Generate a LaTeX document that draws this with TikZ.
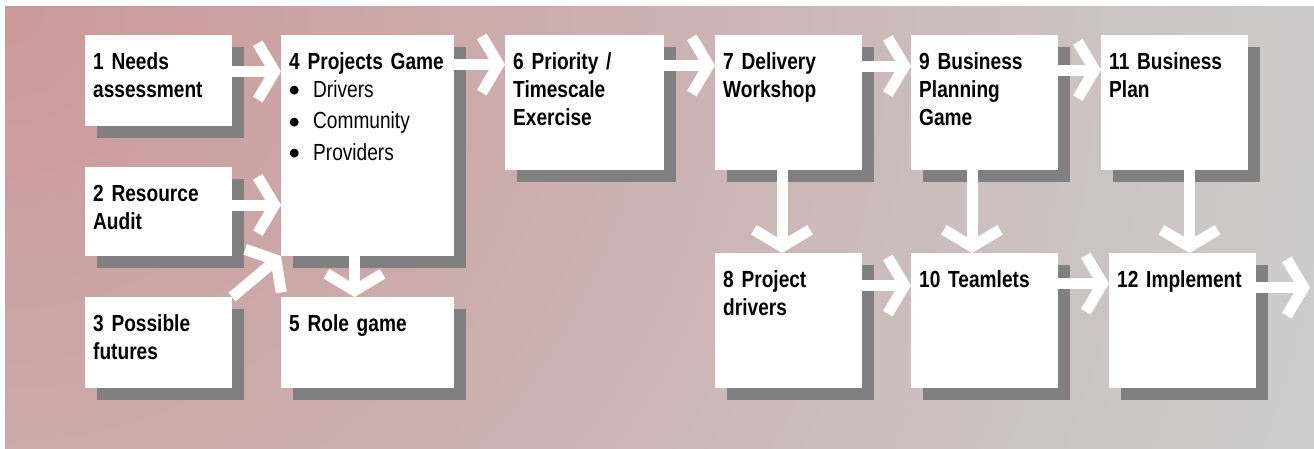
\documentclass[tikz,border=0pt]{standalone}
\usepackage{fontspec}
\setmainfont{Liberation Sans}[FakeStretch=0.82]
\newfontfamily\dotfont{Liberation Sans}
\usetikzlibrary{shadows}

\definecolor{bgpink}{HTML}{CC9999}
\definecolor{bggrey}{HTML}{CCCCCC}
\definecolor{shadowgrey}{HTML}{808080}

% glow centred on the origin, pink in the middle, grey from 1340bp outwards
\pgfdeclareradialshading{bgglow}{\pgfpointorigin}{%
  color(0bp)=(bgpink); color(1340bp)=(bggrey); color(1500bp)=(bggrey)}

% open chevron head with a mitred point, drawn with the line's own width
\pgfdeclarearrow{
  name = Chevron,
  setup code = {
    \pgfarrowssettipend{6.4pt}
    \pgfarrowssetlineend{0pt}
    \pgfarrowssetbackend{-23pt}
    \pgfarrowssetvisualbackend{-23pt}
    \pgfarrowshullpoint{6.4pt}{0pt}
    \pgfarrowsupperhullpoint{-23pt}{31pt}
  },
  drawing code = {
    \pgfsetmiterjoin
    \pgfsetbuttcap
    \pgfpathmoveto{\pgfqpoint{-16.8pt}{28.1pt}}
    \pgfpathlineto{\pgfpointorigin}
    \pgfpathlineto{\pgfqpoint{-16.8pt}{-28.1pt}}
    \pgfusepathqstroke
  }
}

\newcommand\itembul[1]{\makebox[24pt][l]{\smash{\dotfont\bfseries\fontsize{30}{28}\selectfont\raisebox{-3.5pt}{\symbol{"2022}}}}{\mdseries #1}}

\begin{document}
\begin{tikzpicture}[x=1pt,y=-1pt,
  box/.style 2 args={fill=white, inner sep=0pt, outer sep=0pt, anchor=north west,
    minimum width=#1pt, minimum height=#2pt,
    general shadow={fill=shadowgrey, shadow xshift=12pt, shadow yshift=-12pt}},
  lbl/.style={anchor=base west, inner sep=0pt, text width=170pt, align=left,
    font=\fontsize{23.3}{28}\selectfont\bfseries},
  flow/.style={draw=white, line width=11pt, -Chevron},
]
\useasboundingbox (0,0) rectangle (1314,448);

% background: glow spreading from the top left corner
\begin{scope}
  \clip (5,6) rectangle (1314,448);
  \node[inner sep=0pt, outer sep=0pt] at (5,6) {\pgfuseshading{bgglow}};
\end{scope}

% boxes
\node[box={147}{91}]  (b1)  at (85,35)   {};
\node[box={147}{89}]  (b2)  at (85,167)  {};
\node[box={147}{91}]  (b3)  at (85,297)  {};
\node[box={173}{221}] (b4)  at (281,35)  {};
\node[box={173}{91}]  (b5)  at (281,297) {};
\node[box={159}{135}] (b6)  at (505,35)  {};
\node[box={147}{135}] (b7)  at (715,35)  {};
\node[box={147}{135}] (b8)  at (715,253) {};
\node[box={147}{135}] (b9)  at (911,35)  {};
\node[box={147}{135}] (b10) at (911,253) {};
\node[box={147}{135}] (b11) at (1101,35) {};
\node[box={147}{135}] (b12) at (1109,253) {};

% labels
\node[lbl] at ([shift={(8,34)}]b1.north west) {1 Needs\\assessment};
\node[lbl] at ([shift={(8,34)}]b2.north west) {2 Resource\\Audit};
\node[lbl] at ([shift={(8,34)}]b3.north west) {3 Possible\\futures};
\node[lbl] at ([shift={(8,34)}]b4.north west)
  {4 Projects Game\\\itembul{Drivers}\\[3.5pt]\itembul{Community}\\[3.5pt]\itembul{Providers}};
\node[lbl] at ([shift={(8,34)}]b5.north west) {5 Role game};
\node[lbl] at ([shift={(8,34)}]b6.north west) {6 Priority /\\Timescale\\Exercise};
\node[lbl] at ([shift={(8,34)}]b7.north west) {7 Delivery\\Workshop};
\node[lbl] at ([shift={(8,34)}]b8.north west) {8 Project\\drivers};
\node[lbl] at ([shift={(8,34)}]b9.north west) {9 Business\\Planning\\Game};
\node[lbl] at ([shift={(8,34)}]b10.north west) {10 Teamlets};
\node[lbl] at ([shift={(8,34)}]b11.north west) {11 Business\\Plan};
\node[lbl] at ([shift={(8,34)}]b12.north west) {12 Implement};

% connectors
\draw[flow] ([shift={(0,36.5)}]b1.north east) coordinate (s1) -- (s1 -| b4.west);
\draw[flow] ([shift={(0,38)}]b2.north east) coordinate (s2) -- (s2 -| b4.west);
\draw[flow] (b3.north east) -- (b4.south west);
\draw[flow] ([shift={(73.5,0)}]b4.south west) coordinate (s4) -- (s4 |- b5.north);
\draw[flow] ([shift={(0,29.5)}]b4.north east) coordinate (s5) -- (s5 -| b6.west);
\draw[flow] ([shift={(0,30.5)}]b6.north east) coordinate (s6) -- (s6 -| b7.west);
\draw[flow] ([shift={(0,31)}]b7.north east) coordinate (s7) -- (s7 -| b9.west);
\draw[flow] ([shift={(0,35)}]b9.north east) coordinate (s8) -- (s8 -| b11.west);
\draw[flow] ([shift={(67,0)}]b7.south west) coordinate (s9) -- (s9 |- b8.north);
\draw[flow] ([shift={(0,32.5)}]b8.north east) coordinate (s10) -- (s10 -| b10.west);
\draw[flow] ([shift={(61,0)}]b9.south west) coordinate (s11) -- (s11 |- b10.north);
\draw[flow] ([shift={(0,30.5)}]b10.north east) coordinate (s12) -- (s12 -| b12.west);
\draw[flow] ([shift={(88.5,0)}]b11.south west) coordinate (s13) -- (s13 |- b12.north);
\coordinate (out) at (1310,287.5);
\draw[flow] (b12.east |- out) -- (out);
\end{tikzpicture}
\end{document}
